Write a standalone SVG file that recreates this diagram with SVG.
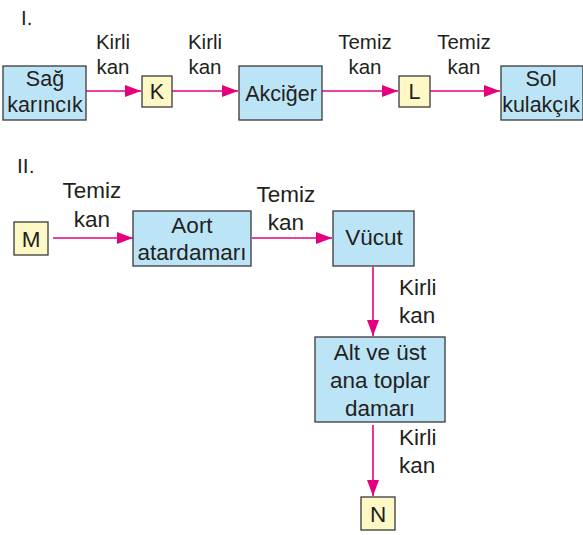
<svg xmlns="http://www.w3.org/2000/svg" width="583" height="535" viewBox="0 0 583 535">
<defs>
<style>
text{font-family:"Liberation Sans",Arial,sans-serif;font-size:20.5px;fill:#231f20;text-anchor:middle}
.lbl{text-anchor:start}
.b1{font-size:21.5px}
.r2{font-size:22.5px}
.big{fill:#bce4f7;stroke:#3a3a3a;stroke-width:1.3}
.small{fill:#fdf8c6;stroke:#3a3a3a;stroke-width:1.3}
.ar{stroke:#e5007d;stroke-width:1.6;fill:none;marker-end:url(#ah)}
</style>
<marker id="ah" markerUnits="userSpaceOnUse" markerWidth="18" markerHeight="12" refX="16" refY="6" orient="auto">
<path d="M0,0 L16,6 L0,12 Z" fill="#e5007d"/>
</marker>
</defs>
<rect width="583" height="535" fill="#fff"/>
<text x="21" y="25" class="lbl">I.</text>
<text x="17" y="173" class="lbl" style="font-size:21px">II.</text>
<g id="connectors">
<line class="ar" x1="83" y1="91" x2="141" y2="91"/>
<line class="ar" x1="172" y1="91" x2="238" y2="91"/>
<line class="ar" x1="322" y1="91" x2="398" y2="91"/>
<line class="ar" x1="430" y1="91" x2="500" y2="91"/>
<line class="ar" x1="53" y1="238" x2="133" y2="238"/>
<line class="ar" x1="252" y1="238" x2="332" y2="238"/>
<line class="ar" x1="373" y1="267" x2="373" y2="336"/>
<line class="ar" x1="373" y1="425" x2="373" y2="496"/>
<text x="113" y="49">Kirli</text><text x="113" y="74">kan</text>
<text x="205" y="49">Kirli</text><text x="205" y="74">kan</text>
<text x="365" y="49">Temiz</text><text x="365" y="74">kan</text>
<text x="464" y="49">Temiz</text><text x="464" y="74">kan</text>
<text x="92" y="198" class="r2">Temiz</text><text x="92" y="227" class="r2">kan</text>
<text x="286" y="202" class="r2">Temiz</text><text x="286" y="230" class="r2">kan</text>
<text x="399" y="295" class="lbl r2">Kirli</text><text x="399" y="323" class="lbl r2">kan</text>
<text x="399" y="445" class="lbl r2">Kirli</text><text x="399" y="473" class="lbl r2">kan</text>
</g>
<g id="sag-karincik"><rect class="big" x="3" y="66" width="83" height="54"/><text x="45" y="86" class="b1">Sağ</text><text x="45" y="112" class="b1">karıncık</text></g>
<g id="K"><rect class="small" x="142" y="76" width="30" height="31"/><text x="157" y="99" class="b1">K</text></g>
<g id="akciger"><rect class="big" x="239" y="66" width="83" height="54"/><text x="281" y="101" class="b1">Akciğer</text></g>
<g id="L"><rect class="small" x="399" y="76" width="31" height="31"/><text x="414.5" y="99" class="b1">L</text></g>
<g id="sol-kulakcik"><rect class="big" x="501" y="66" width="82" height="54"/><text x="541" y="86" class="b1">Sol</text><text x="541" y="112" class="b1">kulakçık</text></g>
<g id="M"><rect class="small" x="14" y="222" width="34" height="33"/><text x="31" y="247" class="r2">M</text></g>
<g id="aort"><rect class="big" x="133" y="211" width="118" height="55"/><text x="192" y="233" class="r2">Aort</text><text x="192" y="260" class="r2">atardamarı</text></g>
<g id="vucut"><rect class="big" x="333" y="211" width="81" height="55"/><text x="374" y="245" class="r2">Vücut</text></g>
<g id="toplar"><rect class="big" x="315" y="337" width="130" height="85"/><text x="380" y="360" class="r2">Alt ve üst</text><text x="380" y="388" class="r2">ana toplar</text><text x="380" y="416" class="r2">damarı</text></g>
<g id="N"><rect class="small" x="361" y="497" width="34" height="33"/><text x="378" y="522" class="r2">N</text></g>
</svg>
